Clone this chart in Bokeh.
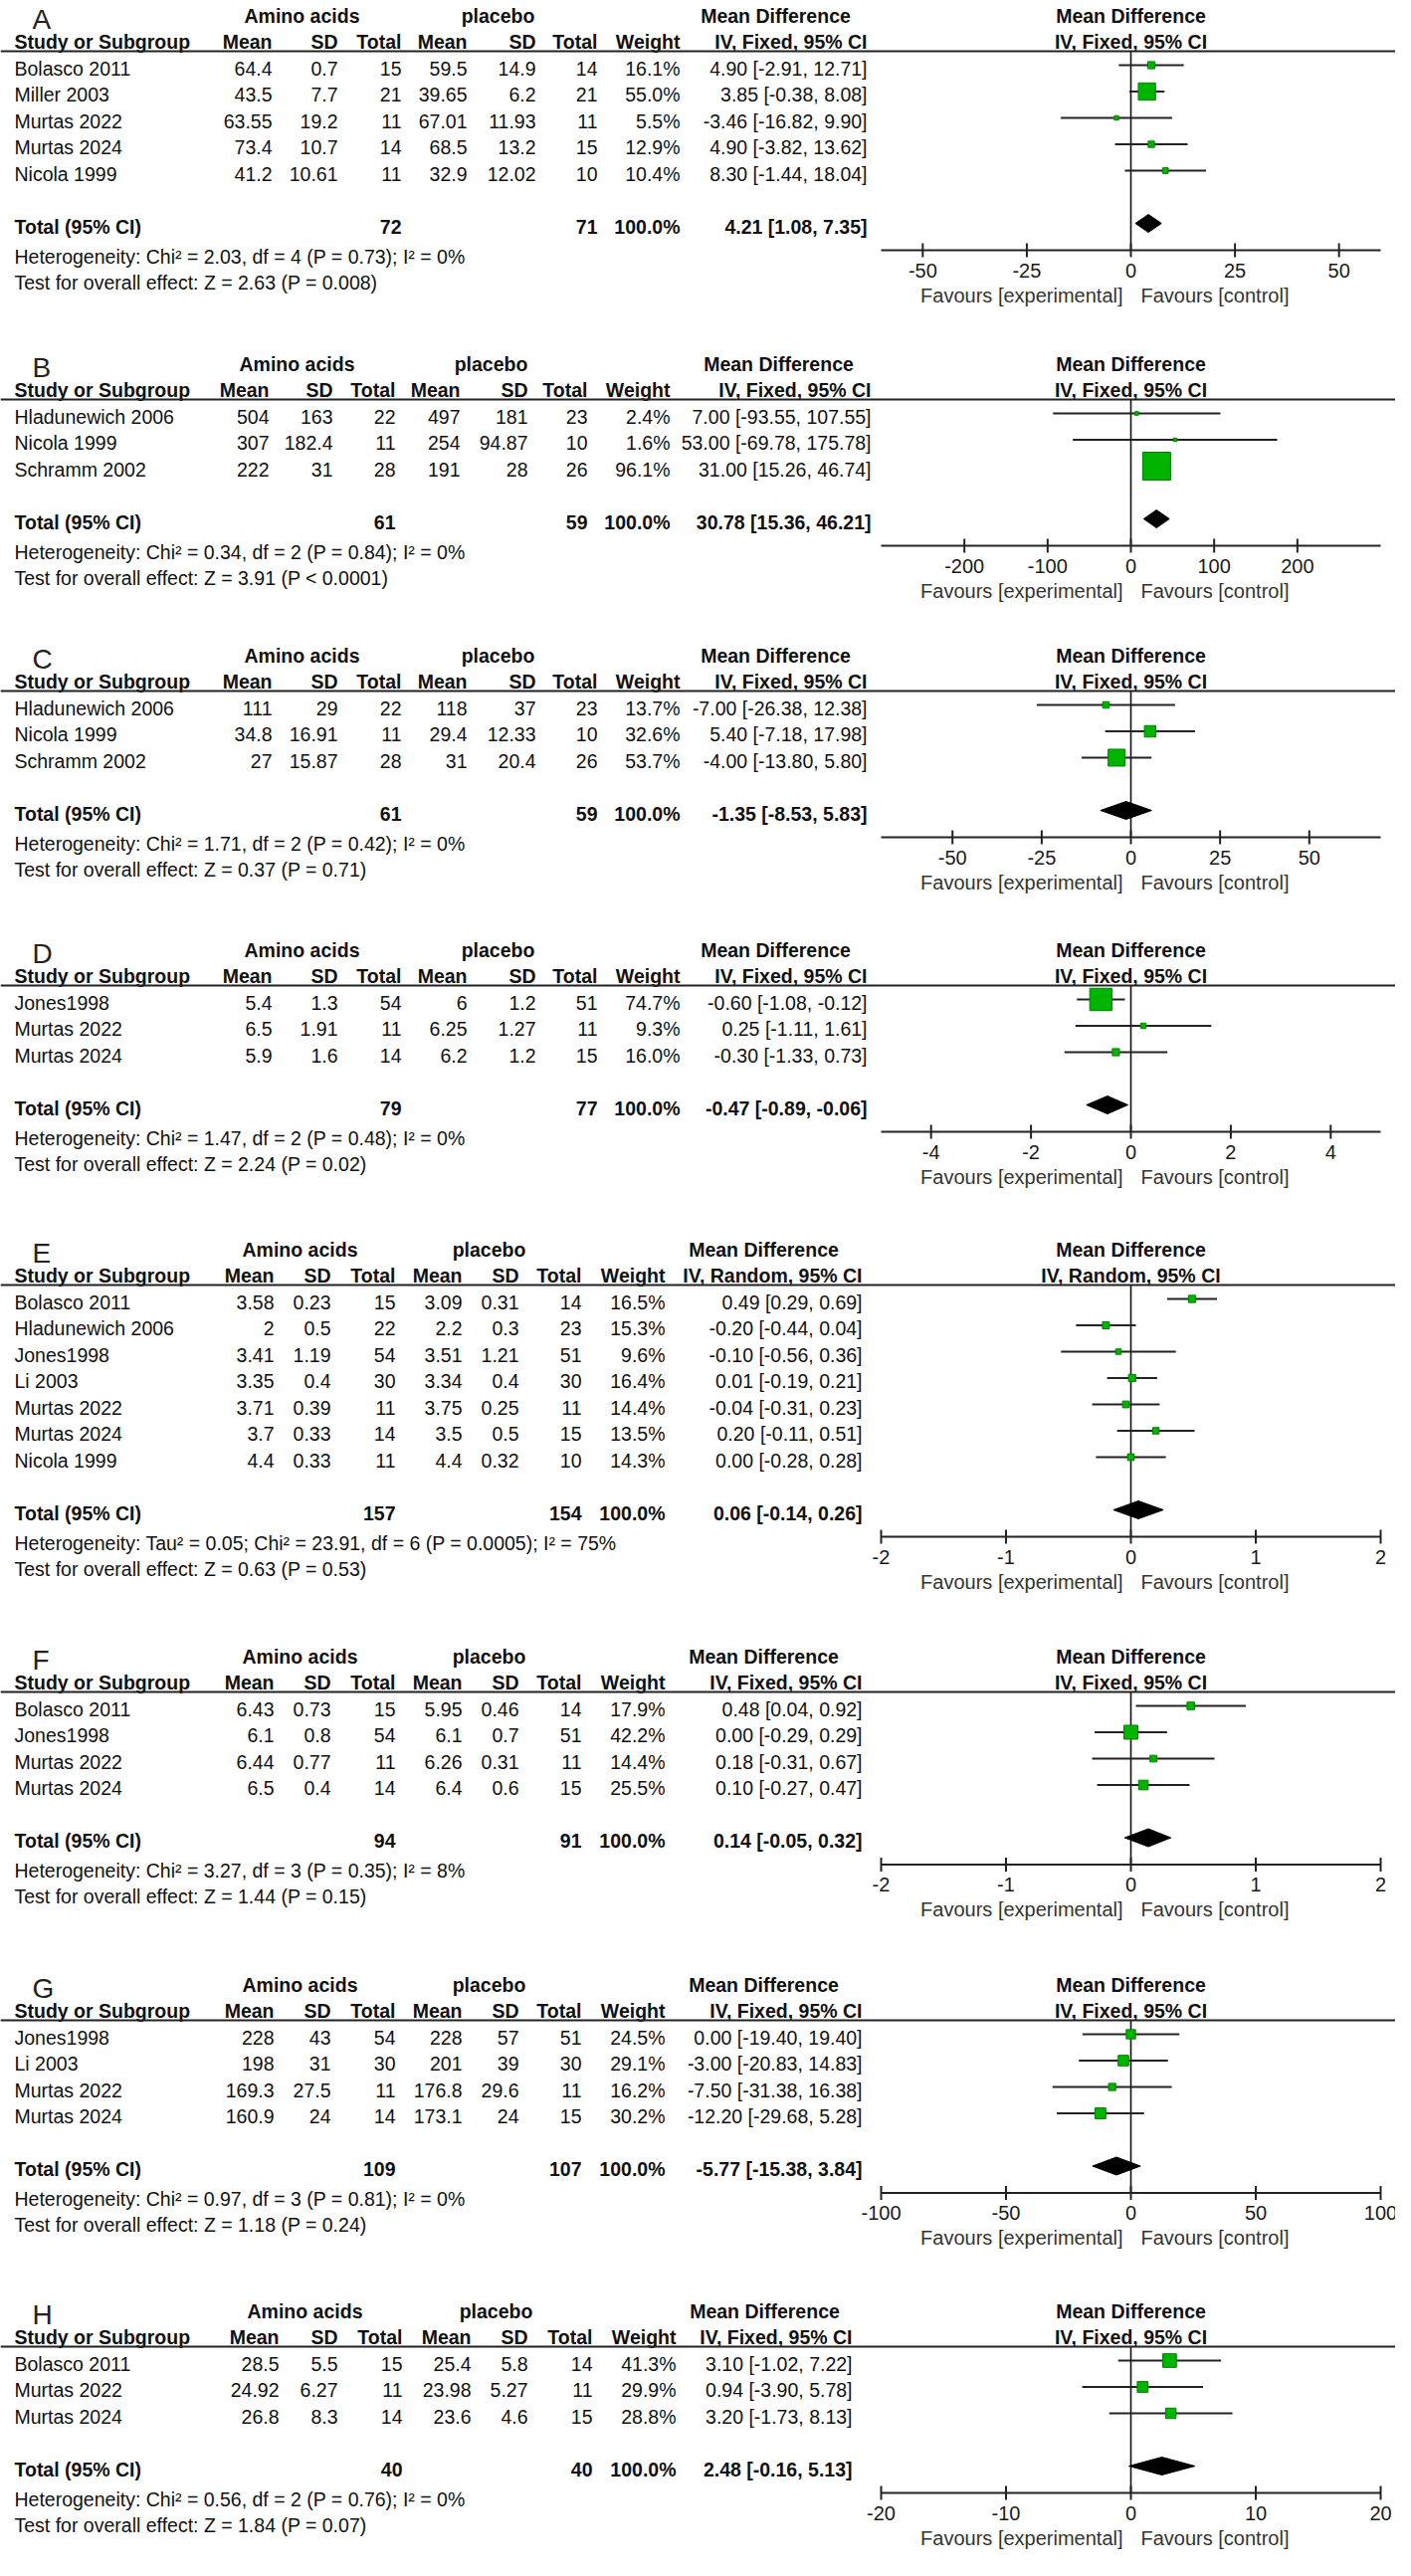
from bokeh.plotting import figure
from bokeh.layouts import column
from bokeh.models import Range1d, Span
from bokeh.core.properties import value
from bokeh.embed import file_html
from bokeh.resources import INLINE

# ---------------- data ----------------
# A
a_study = ["Bolasco 2011", "Miller 2003", "Murtas 2022", "Murtas 2024", "Nicola 1999"]
a_exp_mean = [64.4, 43.5, 63.55, 73.4, 41.2]
a_exp_sd = [0.7, 7.7, 19.2, 10.7, 10.61]
a_exp_n = [15, 21, 11, 14, 11]
a_ctl_mean = [59.5, 39.65, 67.01, 68.5, 32.9]
a_ctl_sd = [14.9, 6.2, 11.93, 13.2, 12.02]
a_ctl_n = [14, 21, 11, 15, 10]
a_weight = [16.1, 55.0, 5.5, 12.9, 10.4]
a_md = [4.90, 3.85, -3.46, 4.90, 8.30]
a_lo = [-2.91, -0.38, -16.82, -3.82, -1.44]
a_hi = [12.71, 8.08, 9.90, 13.62, 18.04]
a_total_n = [72, 71]
a_total_ci = [4.21, 1.08, 7.35]
a_het = "Heterogeneity: Chi\u00b2 = 2.03, df = 4 (P = 0.73); I\u00b2 = 0%"
a_test = "Test for overall effect: Z = 2.63 (P = 0.008)"
a_axis = [-60, 60]
a_ticks = [-50, -25, 0, 25, 50]

# B
b_study = ["Hladunewich 2006", "Nicola 1999", "Schramm 2002"]
b_exp_mean = [504, 307, 222]
b_exp_sd = [163, 182.4, 31]
b_exp_n = [22, 11, 28]
b_ctl_mean = [497, 254, 191]
b_ctl_sd = [181, 94.87, 28]
b_ctl_n = [23, 10, 26]
b_weight = [2.4, 1.6, 96.1]
b_md = [7.00, 53.00, 31.00]
b_lo = [-93.55, -69.78, 15.26]
b_hi = [107.55, 175.78, 46.74]
b_total_n = [61, 59]
b_total_ci = [30.78, 15.36, 46.21]
b_het = "Heterogeneity: Chi\u00b2 = 0.34, df = 2 (P = 0.84); I\u00b2 = 0%"
b_test = "Test for overall effect: Z = 3.91 (P < 0.0001)"
b_axis = [-300, 300]
b_ticks = [-200, -100, 0, 100, 200]

# C
c_study = ["Hladunewich 2006", "Nicola 1999", "Schramm 2002"]
c_exp_mean = [111, 34.8, 27]
c_exp_sd = [29, 16.91, 15.87]
c_exp_n = [22, 11, 28]
c_ctl_mean = [118, 29.4, 31]
c_ctl_sd = [37, 12.33, 20.4]
c_ctl_n = [23, 10, 26]
c_weight = [13.7, 32.6, 53.7]
c_md = [-7.00, 5.40, -4.00]
c_lo = [-26.38, -7.18, -13.80]
c_hi = [12.38, 17.98, 5.80]
c_total_n = [61, 59]
c_total_ci = [-1.35, -8.53, 5.83]
c_het = "Heterogeneity: Chi\u00b2 = 1.71, df = 2 (P = 0.42); I\u00b2 = 0%"
c_test = "Test for overall effect: Z = 0.37 (P = 0.71)"
c_axis = [-70, 70]
c_ticks = [-50, -25, 0, 25, 50]

# D
d_study = ["Jones1998", "Murtas 2022", "Murtas 2024"]
d_exp_mean = [5.4, 6.5, 5.9]
d_exp_sd = [1.3, 1.91, 1.6]
d_exp_n = [54, 11, 14]
d_ctl_mean = [6, 6.25, 6.2]
d_ctl_sd = [1.2, 1.27, 1.2]
d_ctl_n = [51, 11, 15]
d_weight = [74.7, 9.3, 16.0]
d_md = [-0.60, 0.25, -0.30]
d_lo = [-1.08, -1.11, -1.33]
d_hi = [-0.12, 1.61, 0.73]
d_total_n = [79, 77]
d_total_ci = [-0.47, -0.89, -0.06]
d_het = "Heterogeneity: Chi\u00b2 = 1.47, df = 2 (P = 0.48); I\u00b2 = 0%"
d_test = "Test for overall effect: Z = 2.24 (P = 0.02)"
d_axis = [-5, 5]
d_ticks = [-4, -2, 0, 2, 4]

# E
e_study = ["Bolasco 2011", "Hladunewich 2006", "Jones1998", "Li 2003",
           "Murtas 2022", "Murtas 2024", "Nicola 1999"]
e_exp_mean = [3.58, 2, 3.41, 3.35, 3.71, 3.7, 4.4]
e_exp_sd = [0.23, 0.5, 1.19, 0.4, 0.39, 0.33, 0.33]
e_exp_n = [15, 22, 54, 30, 11, 14, 11]
e_ctl_mean = [3.09, 2.2, 3.51, 3.34, 3.75, 3.5, 4.4]
e_ctl_sd = [0.31, 0.3, 1.21, 0.4, 0.25, 0.5, 0.32]
e_ctl_n = [14, 23, 51, 30, 11, 15, 10]
e_weight = [16.5, 15.3, 9.6, 16.4, 14.4, 13.5, 14.3]
e_md = [0.49, -0.20, -0.10, 0.01, -0.04, 0.20, 0.00]
e_lo = [0.29, -0.44, -0.56, -0.19, -0.31, -0.11, -0.28]
e_hi = [0.69, 0.04, 0.36, 0.21, 0.23, 0.51, 0.28]
e_total_n = [157, 154]
e_total_ci = [0.06, -0.14, 0.26]
e_het = "Heterogeneity: Tau\u00b2 = 0.05; Chi\u00b2 = 23.91, df = 6 (P = 0.0005); I\u00b2 = 75%"
e_test = "Test for overall effect: Z = 0.63 (P = 0.53)"
e_axis = [-2, 2]
e_ticks = [-2, -1, 0, 1, 2]

# F
f_study = ["Bolasco 2011", "Jones1998", "Murtas 2022", "Murtas 2024"]
f_exp_mean = [6.43, 6.1, 6.44, 6.5]
f_exp_sd = [0.73, 0.8, 0.77, 0.4]
f_exp_n = [15, 54, 11, 14]
f_ctl_mean = [5.95, 6.1, 6.26, 6.4]
f_ctl_sd = [0.46, 0.7, 0.31, 0.6]
f_ctl_n = [14, 51, 11, 15]
f_weight = [17.9, 42.2, 14.4, 25.5]
f_md = [0.48, 0.00, 0.18, 0.10]
f_lo = [0.04, -0.29, -0.31, -0.27]
f_hi = [0.92, 0.29, 0.67, 0.47]
f_total_n = [94, 91]
f_total_ci = [0.14, -0.05, 0.32]
f_het = "Heterogeneity: Chi\u00b2 = 3.27, df = 3 (P = 0.35); I\u00b2 = 8%"
f_test = "Test for overall effect: Z = 1.44 (P = 0.15)"
f_axis = [-2, 2]
f_ticks = [-2, -1, 0, 1, 2]

# G
g_study = ["Jones1998", "Li 2003", "Murtas 2022", "Murtas 2024"]
g_exp_mean = [228, 198, 169.3, 160.9]
g_exp_sd = [43, 31, 27.5, 24]
g_exp_n = [54, 30, 11, 14]
g_ctl_mean = [228, 201, 176.8, 173.1]
g_ctl_sd = [57, 39, 29.6, 24]
g_ctl_n = [51, 30, 11, 15]
g_weight = [24.5, 29.1, 16.2, 30.2]
g_md = [0.00, -3.00, -7.50, -12.20]
g_lo = [-19.40, -20.83, -31.38, -29.68]
g_hi = [19.40, 14.83, 16.38, 5.28]
g_total_n = [109, 107]
g_total_ci = [-5.77, -15.38, 3.84]
g_het = "Heterogeneity: Chi\u00b2 = 0.97, df = 3 (P = 0.81); I\u00b2 = 0%"
g_test = "Test for overall effect: Z = 1.18 (P = 0.24)"
g_axis = [-100, 100]
g_ticks = [-100, -50, 0, 50, 100]

# H
h_study = ["Bolasco 2011", "Murtas 2022", "Murtas 2024"]
h_exp_mean = [28.5, 24.92, 26.8]
h_exp_sd = [5.5, 6.27, 8.3]
h_exp_n = [15, 11, 14]
h_ctl_mean = [25.4, 23.98, 23.6]
h_ctl_sd = [5.8, 5.27, 4.6]
h_ctl_n = [14, 11, 15]
h_weight = [41.3, 29.9, 28.8]
h_md = [3.10, 0.94, 3.20]
h_lo = [-1.02, -3.90, -1.73]
h_hi = [7.22, 5.78, 8.13]
h_total_n = [40, 40]
h_total_ci = [2.48, -0.16, 5.13]
h_het = "Heterogeneity: Chi\u00b2 = 0.56, df = 2 (P = 0.76); I\u00b2 = 0%"
h_test = "Test for overall effect: Z = 1.84 (P = 0.07)"
h_axis = [-20, 20]
h_ticks = [-20, -10, 0, 10, 20]

panel_letters = ["A", "B", "C", "D", "E", "F", "G", "H"]
methods = ["IV, Fixed, 95% CI"] * 4 + ["IV, Random, 95% CI"] + ["IV, Fixed, 95% CI"] * 3
group_labels = ["Amino acids", "placebo", "Mean Difference"]
col_headers = ["Study or Subgroup", "Mean", "SD", "Total", "Mean", "SD", "Total", "Weight"]
favours = ["Favours [experimental]", "Favours [control]"]

# ---------------- layout / style ----------------
FONT = "Liberation Sans"
FS = "19.5px"
TXT = "#111111"
PAGE_X0 = 8
FIG_W = 1402
AXIS_LEFT = 885      # figure px where the forest axis starts
AXIS_PX = 502        # forest axis length in px
PANEL_H = [342, 293, 296, 301, 409, 330, 328, 274]
HEAD_Y = [51, 59, 59, 59, 59, 59, 59, 59]
PITCH = 26.5
FIRST = 14

COLS_1 = dict(study=22, mean=281, sd=347, tot=411, pmean=477, psd=546, ptot=608,
              weight=691, ci=879, amino=311, placebo=508, mdhead=787)
COLS_B = dict(study=22, mean=278, sd=342, tot=405, pmean=470, psd=538, ptot=598,
              weight=681, ci=883, amino=306, placebo=501, mdhead=790)
COLS_2 = dict(study=22, mean=283, sd=340, tot=405, pmean=472, psd=529, ptot=592,
              weight=676, ci=874, amino=309, placebo=499, mdhead=775)
COLS_3 = dict(study=22, mean=288, sd=347, tot=412, pmean=481, psd=538, ptot=603,
              weight=687, ci=864, amino=314, placebo=506, mdhead=776)
PANEL_COLS = [COLS_1, COLS_B, COLS_1, COLS_1, COLS_2, COLS_2, COLS_2, COLS_3]
LETTER_X = 40


def gather(prefix):
    g = globals()
    return dict(study=g[prefix + "_study"], m1=g[prefix + "_exp_mean"], s1=g[prefix + "_exp_sd"],
                n1=g[prefix + "_exp_n"], m2=g[prefix + "_ctl_mean"], s2=g[prefix + "_ctl_sd"],
                n2=g[prefix + "_ctl_n"], w=g[prefix + "_weight"], md=g[prefix + "_md"],
                lo=g[prefix + "_lo"], hi=g[prefix + "_hi"], tn=g[prefix + "_total_n"],
                tci=g[prefix + "_total_ci"], het=g[prefix + "_het"], test=g[prefix + "_test"],
                axis=g[prefix + "_axis"], ticks=g[prefix + "_ticks"])


panels = [gather(p) for p in "abcdefgh"]


def ci_str(m, l, h):
    return f"{m:.2f} [{l:.2f}, {h:.2f}]"


def txt(p, x, y, t, align="left", bold=False, size=FS, color=TXT, font=FONT, **kw):
    p.text(x=x, y=y, text=t, text_align=align, text_baseline="middle",
           text_font=value(font), text_font_size=size,
           text_font_style="bold" if bold else "normal", text_color=color, **kw)


def make_panel(i):
    d = panels[i]
    H = PANEL_H[i]
    L = HEAD_Y[i]
    cols = {k: v - PAGE_X0 for k, v in PANEL_COLS[i].items()}
    n = len(d["study"])
    ys = [L + FIRST + PITCH * k for k in range(n)]
    yt = L + FIRST + PITCH * (n + 1)
    axis_y = yt + 27
    toff = 3

    lo, hi = d["axis"]
    upp = (hi - lo) / AXIS_PX  # data units per pixel
    md_range = Range1d(lo - AXIS_LEFT * upp, hi + (FIG_W - AXIS_LEFT - AXIS_PX) * upp)

    p = figure(width=FIG_W, height=H, x_range=Range1d(0, FIG_W), y_range=Range1d(H, 0),
               extra_x_ranges={"md": md_range},
               toolbar_location=None, output_backend="svg", x_axis_type=None,
               y_axis_type=None, min_border=0, outline_line_color=None)
    p.add_layout(Span(location=L, dimension="width", line_color="#222222", line_width=2))

    # ---- table ----
    txt(p, LETTER_X - PAGE_X0, L - 32, [panel_letters[i]], size="28px", color="#222222")
    txt(p, cols["amino"], L - 36, [group_labels[0]], "center", True)
    txt(p, cols["placebo"], L - 36, [group_labels[1]], "center", True)
    txt(p, cols["mdhead"], L - 36, [group_labels[2]], "center", True)
    hx = [cols[k] for k in ["mean", "sd", "tot", "pmean", "psd", "ptot", "weight", "ci"]]
    txt(p, cols["study"], L - 10, [col_headers[0]], "left", True)
    txt(p, hx, [L - 10] * 8, col_headers[1:] + [methods[i]], "right", True)

    ty = [y + toff for y in ys]
    txt(p, cols["study"], ty, d["study"])
    for key, vals in [("mean", d["m1"]), ("sd", d["s1"]), ("tot", d["n1"]),
                      ("pmean", d["m2"]), ("psd", d["s2"]), ("ptot", d["n2"])]:
        txt(p, cols[key], ty, [str(v) for v in vals], "right")
    txt(p, cols["weight"], ty, [f"{w:.1f}%" for w in d["w"]], "right")
    txt(p, cols["ci"], ty, [ci_str(m, l, h) for m, l, h in zip(d["md"], d["lo"], d["hi"])], "right")

    txt(p, cols["study"], yt + toff, ["Total (95% CI)"], "left", True)
    txt(p, [cols["tot"], cols["ptot"], cols["weight"], cols["ci"]], [yt + toff] * 4,
        [str(d["tn"][0]), str(d["tn"][1]), "100.0%", ci_str(*d["tci"])], "right", True)
    txt(p, cols["study"], [yt + 33, yt + 59], [d["het"], d["test"]])

    # ---- forest ----
    txt(p, 0, [L - 36, L - 10], [group_labels[2], methods[i]], "center", True, x_range_name="md")
    p.segment(x0=[0], x1=[0], y0=[L], y1=[axis_y], line_color="#111111", line_width=1.6,
              x_range_name="md")
    p.segment(x0=d["lo"], x1=d["hi"], y0=ys, y1=ys, line_color="#222222", line_width=2,
              x_range_name="md")
    p.scatter(x=d["md"], y=ys, marker="square", size=[3 + 0.26 * w for w in d["w"]],
              fill_color="#00B400", line_color="#008000", line_width=1, x_range_name="md")
    tm, tl, th = d["tci"]
    p.patch(x=[tl, tm, th, tm], y=[yt, yt - 9, yt, yt + 9], fill_color="black",
            line_color="black", line_width=1, x_range_name="md")

    # axis (drawn on the md scale)
    p.segment(x0=[lo], x1=[hi], y0=[axis_y], y1=[axis_y], line_color="#222222",
              line_width=2, x_range_name="md")
    p.segment(x0=d["ticks"], x1=d["ticks"], y0=axis_y - 7, y1=axis_y + 7,
              line_color="#222222", line_width=2, x_range_name="md")
    txt(p, d["ticks"], axis_y + 20, [str(t) for t in d["ticks"]], "center", size="20px",
        color="#1a1a1a", x_range_name="md")
    txt(p, 0, axis_y + 45, [favours[0]], "right", size="20px", color="#333333",
        x_offset=-8, x_range_name="md")
    txt(p, 0, axis_y + 45, [favours[1]], "left", size="20px", color="#333333",
        x_offset=10, x_range_name="md")
    return p


layout = column(*[make_panel(i) for i in range(8)])
open("out.html", "w").write(file_html(layout, INLINE, "Forest plots"))
